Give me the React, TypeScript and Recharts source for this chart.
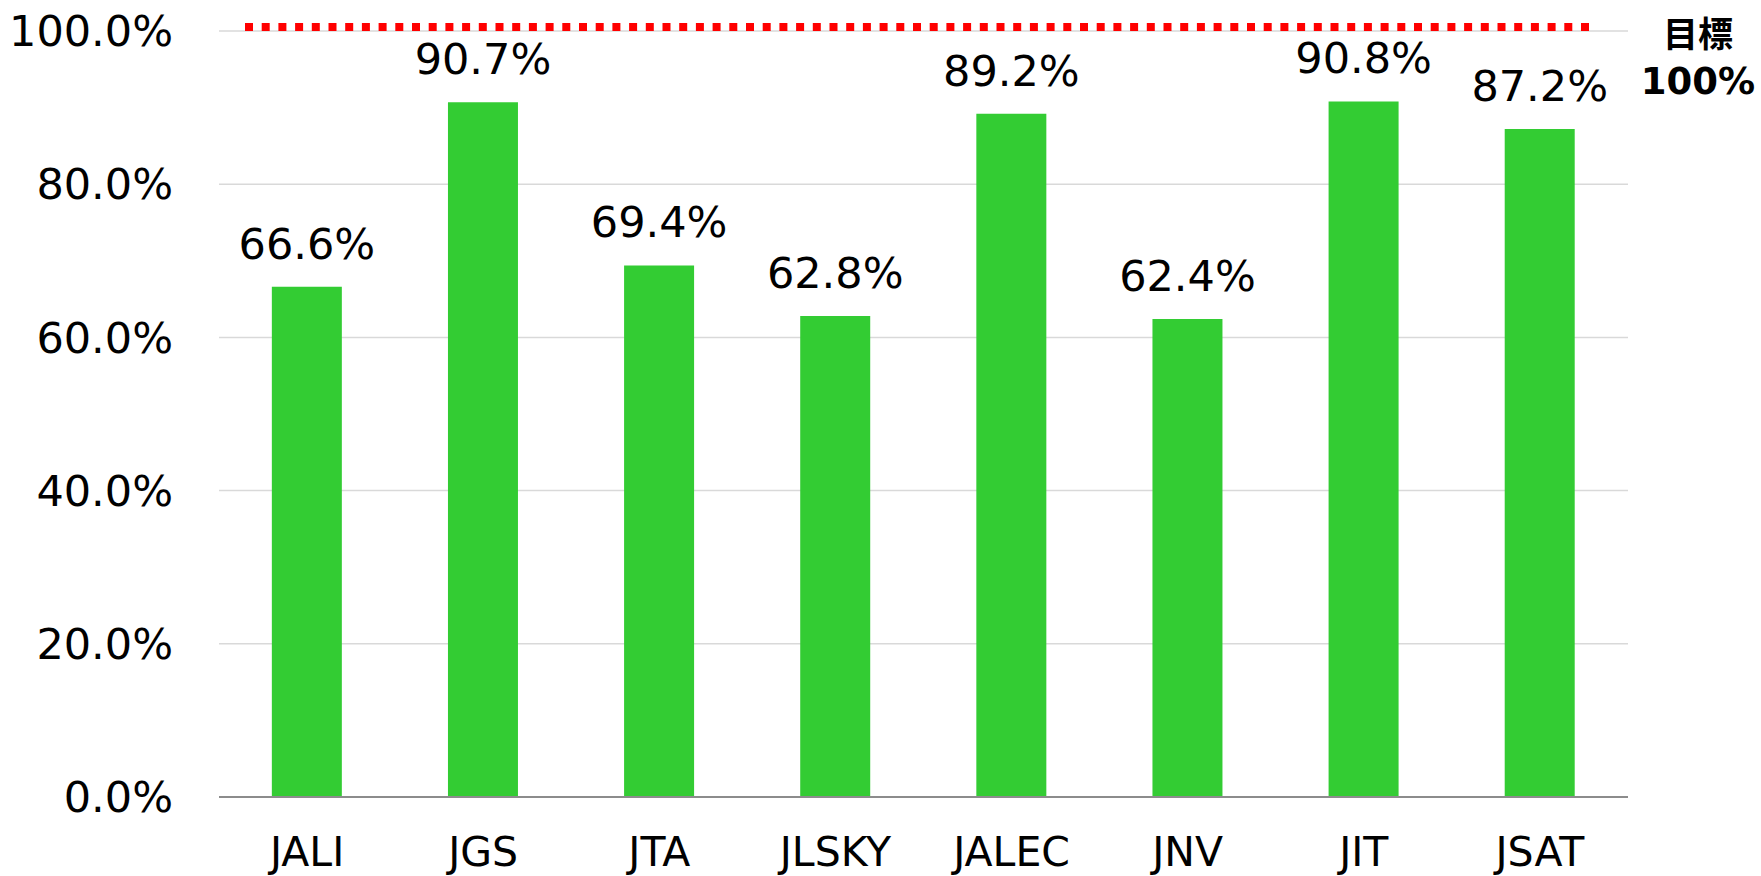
import React from "react";
import {
  BarChart,
  Bar,
  XAxis,
  YAxis,
  CartesianGrid,
  ReferenceLine,
  LabelList,
} from "recharts";

const companies = ["JALI", "JGS", "JTA", "JLSKY", "JALEC", "JNV", "JIT", "JSAT"];
const rates = [66.6, 90.7, 69.4, 62.8, 89.2, 62.4, 90.8, 87.2];
const yTicks = [0, 20, 40, 60, 80, 100];
const target = 100;
const targetTitle = "目標";
const targetText = "100%";

const data = companies.map((name, i) => ({ name, rate: rates[i] }));

const FONT = "'DejaVu Sans', 'Noto Sans CJK JP', sans-serif";

// dotted target line, inset from the plot edges like the original
const TargetLine = (props: any) => {
  const { x1, x2, y1 } = props;
  const y = y1 - 4;
  return (
    <g>
      <line
        x1={x1 + 26}
        x2={x2 - 38}
        y1={y}
        y2={y}
        stroke="#ff0000"
        strokeWidth={8}
        strokeDasharray="8 8.7"
      />
      <text
        x={x2 + 70}
        y={y1 + 4}
        textAnchor="middle"
        dominantBaseline="central"
        fontFamily={FONT}
        fontWeight="bold"
        fontSize={35}
        fill="#000"
      >
        {targetTitle}
      </text>
      <text
        x={x2 + 70}
        y={y1 + 50}
        textAnchor="middle"
        dominantBaseline="central"
        fontFamily={FONT}
        fontWeight="bold"
        fontSize={37}
        fill="#000"
      >
        {targetText}
      </text>
    </g>
  );
};

export default function App() {
  return (
    <div style={{ position: "absolute", left: 0, top: 0, background: "#fff" }}>
      <BarChart
        width={1761}
        height={876}
        data={data}
        margin={{ top: 31, right: 133, left: 0, bottom: 0 }}
        barCategoryGap="30%"
      >
        <CartesianGrid
          vertical={false}
          stroke="#d9d9d9"
          strokeWidth={1.5}
        />
        <XAxis
          dataKey="name"
          tickLine={false}
          tickSize={0}
          tickMargin={40}
          axisLine={{ stroke: "#8c8c8c", strokeWidth: 2 }}
          tick={{ fill: "#000", fontSize: 41, fontFamily: FONT }}
          height={79}
        />
        <YAxis
          domain={[0, 100]}
          ticks={yTicks}
          width={219}
          axisLine={false}
          tickLine={false}
          tickSize={0}
          tickMargin={46}
          tickFormatter={(v: number) => v.toFixed(1) + "%"}
          tick={{ fill: "#000", fontSize: 43, fontFamily: FONT }}
        />
        <Bar dataKey="rate" fill="#33cc33" isAnimationActive={false}>
          <LabelList
            dataKey="rate"
            position="top"
            offset={28}
            formatter={(v: any) => Number(v).toFixed(1) + "%"}
            style={{ fill: "#000", fontSize: 43, fontFamily: FONT }}
          />
        </Bar>
        <ReferenceLine y={target} ifOverflow="visible" shape={TargetLine} />
      </BarChart>
    </div>
  );
}
